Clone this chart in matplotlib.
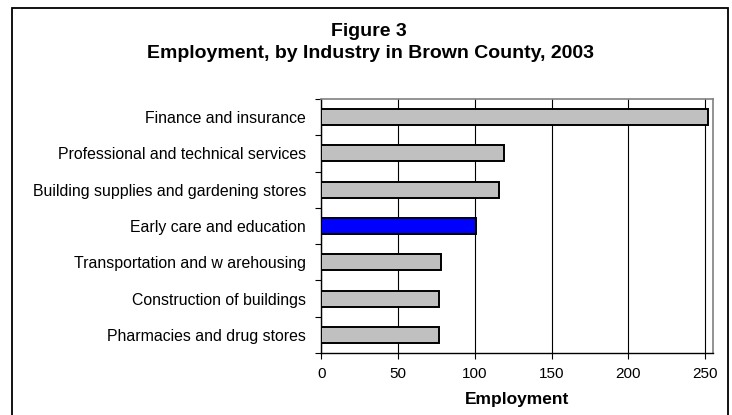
import matplotlib
matplotlib.use("Agg")
import matplotlib.pyplot as plt
from matplotlib.patches import Rectangle
from matplotlib.ticker import FixedLocator

categories = [
    "Finance and insurance",
    "Professional and technical services",
    "Building supplies and gardening stores",
    "Early care and education",
    "Transportation and w arehousing",
    "Construction of buildings",
    "Pharmacies and drug stores",
]
values = [252, 119, 116, 101, 78, 77, 77]
highlight = "Early care and education"
xticks = [0, 50, 100, 150, 200, 250]
title_lines = ["Figure 3", "Employment, by Industry in Brown County, 2003"]
xlabel = "Employment"

plt.rcParams["font.family"] = ["Liberation Sans", "DejaVu Sans"]

W, H = 732, 415
fig = plt.figure(figsize=(W / 100, H / 100), dpi=100)
fig.patch.set_facecolor("white")

# outer chart frame
fig.add_artist(Rectangle((12 / W, -0.05), (727.5 - 12) / W, 1.05 - 8 / H,
                         transform=fig.transFigure, fill=False,
                         edgecolor="black", linewidth=1.3))

ax = fig.add_axes([321.3 / W, (H - 353) / H, (712.7 - 321.3) / W, (353 - 99) / H])

n = len(categories)
ypos = list(range(n))
colors = ["#0000FF" if c == highlight else "#C0C0C0" for c in categories]
ax.barh(ypos, values, height=0.44, color=colors, edgecolor="black",
        linewidth=1.4, zorder=3)

ax.set_xlim(0, 255)
ax.set_ylim(n - 0.5, -0.5)
ax.set_xticks(xticks)
ax.set_xticklabels([str(t) for t in xticks], fontsize=11)
ax.set_yticks(ypos)
ax.set_yticklabels(categories, fontsize=11.4)
ax.yaxis.set_minor_locator(FixedLocator([i - 0.5 for i in range(n + 1)]))
ax.tick_params(axis="y", which="major", length=0, pad=11)
ax.tick_params(axis="y", which="minor", length=4, width=0.8, direction="out")
ax.tick_params(axis="x", which="major", length=4, width=0.8, direction="out", pad=6)

ax.grid(axis="x", color="black", linewidth=0.8, zorder=0)
for s in ["top", "right"]:
    ax.spines[s].set_color("#808080")
    ax.spines[s].set_linewidth(1.2)
for s in ["left", "bottom"]:
    ax.spines[s].set_color("black")
    ax.spines[s].set_linewidth(1.0)

ax.set_xlabel(xlabel, fontsize=12.5, fontweight="bold", labelpad=8)

fig.text(369 / W, 1 - 32 / H, title_lines[0], ha="center", va="center",
         fontsize=14, fontweight="bold")
fig.text(370.5 / W, 1 - 54 / H, title_lines[1], ha="center", va="center",
         fontsize=14, fontweight="bold")

fig.savefig("out.png", dpi=100)
